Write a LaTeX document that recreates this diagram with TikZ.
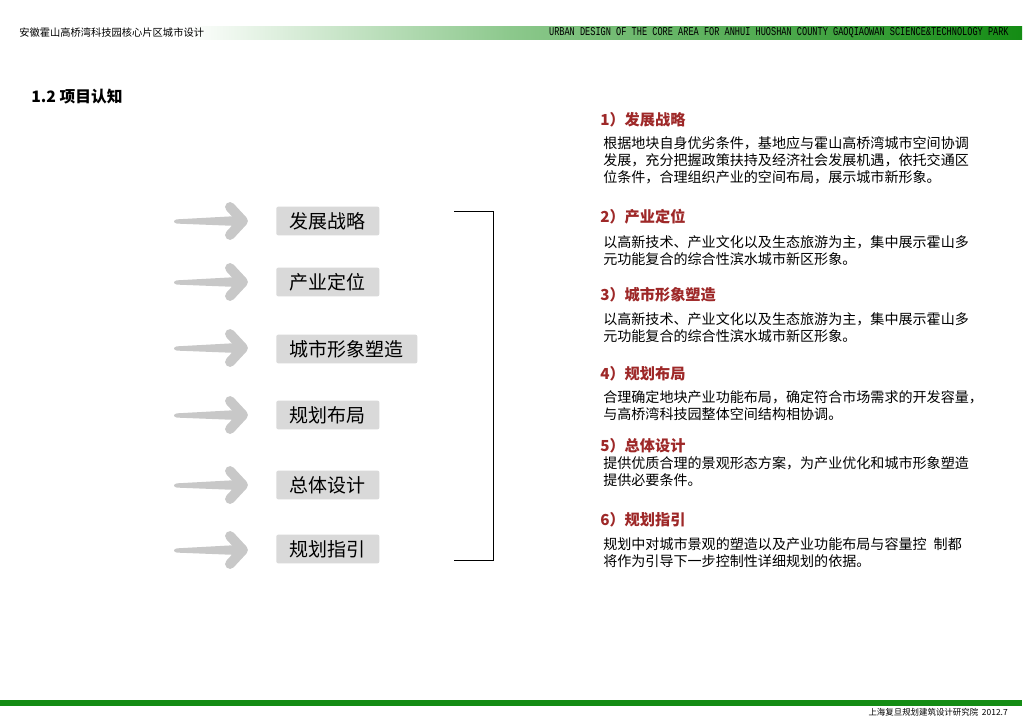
\documentclass[tikz,border=0pt]{standalone}
\usepackage{fontspec}
\setmainfont{Noto Sans CJK SC}
\newfontfamily\hdfont[FakeStretch=0.72]{Liberation Mono}
\definecolor{bardark}{RGB}{20,140,20}
\definecolor{barmid}{RGB}{140,200,140}
\definecolor{headred}{RGB}{158,40,40}
\definecolor{boxgray}{RGB}{217,217,217}
\definecolor{arrowgray}{RGB}{200,200,200}
\pgfdeclarehorizontalshading{hdbar}{100bp}{color(0bp)=(white); color(34bp)=(white); color(50bp)=(barmid); color(75bp)=(bardark); color(100bp)=(bardark)}

\begin{document}
\begin{tikzpicture}[
    x=0.025cm, y=-0.025cm,
    item/.style={fill=boxgray, rounded corners=1.5pt, anchor=west, minimum height=0.72cm, inner xsep=0.34cm, font=\fontsize{13.5}{15}\selectfont},
    head/.style={anchor=west, inner sep=0, text=headred, font=\bfseries\fontsize{10.8}{13}\selectfont},
    desc/.style={anchor=north west, inner sep=0, align=left, font=\fontsize{10}{12.05}\selectfont},
    bracket/.style={draw, line width=0.7pt},
    garrow/.pic={
        \fill[arrowgray, rounded corners=2pt] (-74,-1.5) -- (-10,-5) -- (-10,5) -- (-74,2.5) -- cycle;
        \draw[arrowgray, line width=7pt, line cap=round, line join=round] (-18,-14) -- (-5,0) -- (-18,14);
    }
]
    \useasboundingbox (0,0) rectangle (1024,724);
    \fill[white] (0,0) rectangle (1024,724);

    % header and footer
    \shade[shading=hdbar] (0,26) rectangle (1022,39);
    \node[anchor=west, inner sep=0, font=\fontsize{7.3}{8}\selectfont] (hdcn) at (19,33) {安徽霍山高桥湾科技园核心片区城市设计};
    \node[anchor=east, inner sep=0, font=\hdfont\fontsize{8.5}{9}\selectfont] (hden) at (1009,33) {URBAN DESIGN OF THE CORE AREA FOR ANHUI HUOSHAN COUNTY GAOQIAOWAN SCIENCE\&TECHNOLOGY PARK};
    \fill[bardark] (0,700) rectangle (1022,706);
    \node[anchor=east, inner sep=0, font=\fontsize{6}{7}\selectfont] (foot) at (1008,712) {上海复旦规划建筑设计研究院\ \ 2012.7};

    \node[anchor=west, inner sep=0, font=\bfseries\fontsize{11.2}{13}\selectfont] (title) at (31,97) {1.2\ 项目认知};

    % left column
    \pic at (248,221) {garrow};
    \pic at (248,282) {garrow};
    \pic at (248,348) {garrow};
    \pic at (248,415) {garrow};
    \pic at (248,485) {garrow};
    \pic at (248,550) {garrow};

    \node[item] (b1) at (276,221) {发展战略};
    \node[item] (b2) at (276,282) {产业定位};
    \node[item] (b3) at (276,349) {城市形象塑造};
    \node[item] (b4) at (276,415) {规划布局};
    \node[item] (b5) at (276,485) {总体设计};
    \node[item] (b6) at (276,549) {规划指引};

    \coordinate (brtop) at (454,211);
    \coordinate (brbot) at (454,560);
    \draw[bracket] (brtop) -- ++(39,0) |- (brbot);

    % right column
    \node[head] (h1) at (600,120) {1）发展战略};
    \node[desc] (t1) at (603,136) {根据地块自身优劣条件，基地应与霍山高桥湾城市空间协调\\发展，充分把握政策扶持及经济社会发展机遇，依托交通区\\位条件，合理组织产业的空间布局，展示城市新形象。};

    \node[head] (h2) at (600,217) {2）产业定位};
    \node[desc] (t2) at (603,235) {以高新技术、产业文化以及生态旅游为主，集中展示霍山多\\元功能复合的综合性滨水城市新区形象。};

    \node[head] (h3) at (600,295) {3）城市形象塑造};
    \node[desc] (t3) at (603,312) {以高新技术、产业文化以及生态旅游为主，集中展示霍山多\\元功能复合的综合性滨水城市新区形象。};

    \node[head] (h4) at (600,374) {4）规划布局};
    \node[desc] (t4) at (603,390) {合理确定地块产业功能布局，确定符合市场需求的开发容量，\\与高桥湾科技园整体空间结构相协调。};

    \node[head] (h5) at (600,446) {5）总体设计};
    \node[desc] (t5) at (603,456) {提供优质合理的景观形态方案，为产业优化和城市形象塑造\\提供必要条件。};

    \node[head] (h6) at (600,520) {6）规划指引};
    \node[desc] (t6) at (603,537) {规划中对城市景观的塑造以及产业功能布局与容量控\hspace{0.5em}制都\\将作为引导下一步控制性详细规划的依据。};
\end{tikzpicture}
\end{document}
